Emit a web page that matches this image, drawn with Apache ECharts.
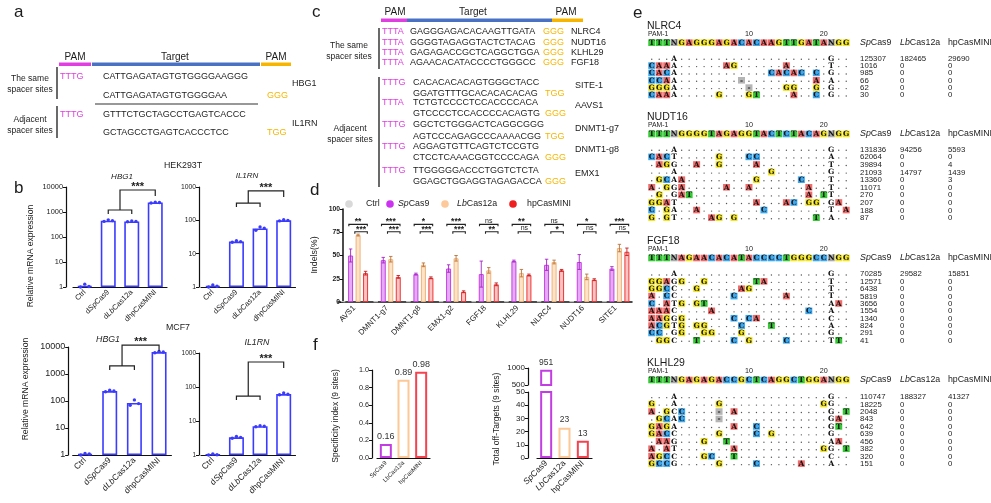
<!DOCTYPE html>
<html><head><meta charset="utf-8">
<script src="https://cdn.jsdelivr.net/npm/echarts@6/dist/echarts.min.js"></script>
<style>html,body{margin:0;padding:0;background:#fff;}#chart{width:991px;height:503px;}</style>
</head><body><div id="chart"></div>
<script>
// ================= DATA =================
// panel a
const aSameRows = [['TTTG','CATTGAGATAGTGTGGGGAAGGG',''],['','CATTGAGATAGTGTGGGGAA','GGG']];
const aAdjRows = [['TTTG','GTTTCTGCTAGCCTGAGTCACCC',''],['','GCTAGCCTGAGTCACCCTCC','TGG']];
const aGenes = ['HBG1','IL1RN'];
// panel c
const cSameRows = [['TTTA','GAGGGAGACACAAGTTGATA','GGG','NLRC4'],['TTTA','GGGGTAGAGGTACTCTACAG','GGG','NUDT16'],
  ['TTTA','GAGAGACCGCTCAGGCTGGA','GGG','KLHL29'],['TTTA','AGAACACATACCCCTGGGCC','GGG','FGF18']];
const cAdjPairs = [['TTTG','CACACACACAGTGGGCTACC','GGATGTTTGCACACACACAG','TGG','SITE-1'],
  ['TTTA','TCTGTCCCCTCCACCCCACA','GTCCCCTCCACCCCACAGTG','GGG','AAVS1'],
  ['TTTG','GGCTCTGGGACTCAGGCGGG','AGTCCCAGAGCCCAAAACGG','TGG','DNMT1-g7'],
  ['TTTG','AGGAGTGTTCAGTCTCCGTG','CTCCTCAAACGGTCCCCAGA','GGG','DNMT1-g8'],
  ['TTTG','TTGGGGGACCCTGGTCTCTA','GGAGCTGGAGGTAGAGACCA','GGG','EMX1']];
// panel b
const bCats = ['Ctrl','dSpCas9','dLbCas12a','dhpCasMINI'];
const hekHBG1 = [1.1, 450, 420, 2400];
const hekHBG1Reps = [[1.0,1.3,1.05],[420,485,450],[405,435,420],[2300,2480,2400]];
const hekIL1RN = [1.07, 23, 57, 100];
const hekIL1RNReps = [[1.0,1.15,1.05],[22,24.5,23],[50,63,58],[96,104,100]];
const mcfHBG1 = [1.08, 233, 85, 6500];
const mcfHBG1Reps = [[1.0,1.15,1.1],[220,250,235],[70,110,80],[6100,6900,6500]];
const mcfIL1RN = [1.03, 3.3, 7.0, 62];
const mcfIL1RNReps = [[1.0,1.08,1.02],[3.1,3.5,3.3],[6.8,7.3,7.0],[59,67,61]];
const bBrackets = [[1200,7600],[330,760],[1990,11800],[54,543]];
const bSig = ['***','***','***','***'];
// panel d
const dCats = ['AVS1','DMNT1-g7','DMNT1-g8','EMX1-g2','FGF18','KLHL29','NLRC4','NUDT16','SITE1'];
const dCtrl = [0.8,0.8,0.8,0.8,0.8,0.8,0.8,0.8,0.8];
const dSp   = [50,45,30,36,30,44,40,43,36];
const dSpSd = [7,3,1,4,14,1,6,8,2];
const dLb   = [72,46,40,47,34,31,43,27,58];
const dLbSd = [1,3,2,3,3,4,2,3,4];
const dHp   = [31,27,26,11,19,29,34,24,54];
const dHpSd = [2,1.5,1,1,1.5,1,1,1,4];
const dSigTop = ['**','***','*','***','ns','**','ns','*','***'];
const dSigBot = ['***','***','***','***','**','ns','*','ns','ns'];
// panel f
const fCats = ['SpCas9','LbCas12a','hpCasMINI'];
const fSpecificity = [0.16, 0.89, 0.98];
const fOffTargets = [951, 23, 13];
// panel e  (digits = runs of matching '.')
const eNames = ['NLRC4','NUDT16','FGF18','KLHL29'];
const eRefs = ['TTTNGAGGGAGACACAAGTTGATANGG','TTTNGGGGTAGAGGTACTCTACAGNGG','TTTNAGAACACATACCCCTGGGCCNGG','TTTNGAGAGACCGCTCAGGCTGGANGG'];
const nlrc4Rows = ['3A20G2','CAAA6AG6A5T2','CACA12CACAC1C1G2','CCAA8-9A1A2','GGGA9-4GG2G1G2','CAAA5G3GT4A2C1G2'];
const nlrc4Counts = [[125307,182465,29690],[1016,0,0],[985,0,0],[66,0,0],[62,0,0],[30,0,0]];
const nudt16Rows = ['3A20G2','CACT5G3CC9A2','1AGG2A2G4A9T2','3A12G7G2','1GCAA9G5C3T2','A1GGA5A2A7A2T2','1G1GAT15A1TT2','GGAT10A3AC1GG1GA1','C1GA2A8C8T1A','G1GT4AG1G10T1A2'];
const nudt16Counts = [[131836,94256,5593],[62064,0,0],[39894,0,4],[21093,14797,1439],[13360,0,3],[11071,0,0],[270,0,0],[207,0,0],[188,0,0],[87,0,0]];
const fgf18Rows = ['3A20G2','GGAGG2G6TA8T2','GGCC2G5AG10T2','A1CC7C6A5T2','C1ATG1GT16AA1','AAAC4A12C2A2','AAGGG6C1CA9C2','ACGTG1GG4C3T7A2','CC1GG2GG3G11G2','1GGC2T4C1G4C5TT1'];
const fgf18Counts = [[70285,29582,15851],[12571,0,0],[6438,0,0],[5819,0,0],[3656,0,0],[1554,0,0],[1340,0,0],[824,0,0],[291,0,0],[41,0,0]];
const klhl29Rows = ['3A20G2','G2A5G13GG2','A1GCC4-1A12G1T','1GCAC4-14GA1','GAGA7A2C9GT1','GACC5G4C1G7G2','1AAG3G2T13AA1','A1AT7A11GG1T','AGCC3GC2T12C2','GCCG5G4C5A3A2'];
const klhl29Counts = [[110747,188327,41327],[18225,0,0],[2048,0,0],[843,0,0],[642,0,0],[639,0,0],[456,0,0],[382,0,0],[320,0,0],[151,0,0]];
const eHeaders = ['{i|Sp}Cas9','{i|Lb}Cas12a','hpCasMINI'];

// ================= STYLE / LAYOUT =================
const FONT = '"Liberation Sans", Arial, sans-serif';
const TXT = '#1c1c1c';
const MAG = '#e03ee0', BLUEBAR = '#4a72c4', YEL = '#f7b500';
const BLUE = '#3b3bff';
const E_COL = {A:'#f26b6b', C:'#3ea8ee', G:'#f3e51e', T:'#36c936', N:'#a9a9a9', '-':'#b5b5b5'};
const CELL = 7.48;
const eLayout = [{refY:42.7, sp:7.34, gap:2.12},{refY:134, sp:7.6, gap:2.01},{refY:258, sp:7.37, gap:2.17},{refY:380, sp:7.44, gap:2.24}];
const eCountX = [27.85, 33.2, 39.6];

function font(size, st, wt){ return (st||'') + ' ' + (wt||'') + ' ' + size + 'px ' + FONT; }
function T(x, y, text, o){
  o = o || {};
  const st = { text: text, fill: o.fill || TXT, font: font(o.size || 9, o.st, o.wt),
    align: o.align || 'left', verticalAlign: o.va || 'middle', textAlign: o.align || 'left', textVerticalAlign: o.va || 'middle' };
  if (o.rich) st.rich = o.rich;
  return { type:'text', x:x, y:y, rotation:o.rot || 0, z:20, silent:true, style: st };
}
function richI(size){ return { i: { font: font(size,'italic'), fontStyle:'italic', fontSize:size, fontFamily:FONT, fill:TXT } }; }
function italicize(v){ return '{n|' + v.replace(/(Sp|Lb)/, '}{i|$1}{n|') + '}'; }
function axisRich(fs){ return { n:{fontSize:fs, fontFamily:FONT, color:TXT}, i:{fontSize:fs, fontFamily:FONT, fontStyle:'italic', color:TXT} }; }
function decodeRow(s){ let out=''; s.replace(/(\d+)|(\D)/g, function(m,d,c){ out += d ? '.'.repeat(+d) : c; return m; }); return out; }
function plain(v){ return String(Math.round(v * 1000) / 1000); }

const grids = [], xAxes = [], yAxes = [], series = [], graphic = [];

// ================= PANEL a =================
graphic.push(T(14, 12, 'a', {size:17}));
graphic.push(T(75, 57, 'PAM', {size:10, align:'center'}));
graphic.push(T(175, 57, 'Target', {size:10, align:'center'}));
graphic.push(T(276, 57, 'PAM', {size:10, align:'center'}));
graphic.push({type:'rect', shape:{x:59, y:62.5, width:32, height:3.5}, style:{fill:MAG}});
graphic.push({type:'rect', shape:{x:92, y:62.5, width:168, height:3.5}, style:{fill:BLUEBAR}});
graphic.push({type:'rect', shape:{x:261, y:62.5, width:30, height:3.5}, style:{fill:YEL}});
graphic.push(T(30, 79, 'The same', {size:8.5, align:'center'}));
graphic.push(T(30, 89.5, 'spacer sites', {size:8.5, align:'center'}));
graphic.push(T(30, 120, 'Adjacent', {size:8.5, align:'center'}));
graphic.push(T(30, 131, 'spacer sites', {size:8.5, align:'center'}));
graphic.push({type:'line', shape:{x1:57, y1:67, x2:57, y2:99}, style:{stroke:'#444', lineWidth:1.6}});
graphic.push({type:'line', shape:{x1:57, y1:106, x2:57, y2:138}, style:{stroke:'#444', lineWidth:1.6}});
graphic.push({type:'line', shape:{x1:95, y1:104, x2:258, y2:104}, style:{stroke:'#333', lineWidth:1.2}});
[[aSameRows,[77,96]],[aAdjRows,[115,133]]].forEach(function(g){
  g[0].forEach(function(r,i){
    const y = g[1][i];
    if (r[0]) graphic.push(T(60, y, r[0], {fill:MAG}));
    graphic.push(T(103, y, r[1]));
    if (r[2]) graphic.push(T(267, y, r[2], {fill:YEL}));
  });
});
graphic.push(T(292, 84, aGenes[0], {size:9}));
graphic.push(T(292, 124, aGenes[1], {size:9}));

// ================= PANEL c =================
graphic.push(T(312, 12, 'c', {size:17}));
graphic.push(T(395, 12, 'PAM', {size:10, align:'center'}));
graphic.push(T(473, 12, 'Target', {size:10, align:'center'}));
graphic.push(T(566, 12, 'PAM', {size:10, align:'center'}));
graphic.push({type:'rect', shape:{x:381, y:18.5, width:26, height:3.5}, style:{fill:MAG}});
graphic.push({type:'rect', shape:{x:407, y:18.5, width:145, height:3.5}, style:{fill:BLUEBAR}});
graphic.push({type:'rect', shape:{x:552, y:18.5, width:31, height:3.5}, style:{fill:YEL}});
graphic.push(T(349, 46, 'The same', {size:8.5, align:'center'}));
graphic.push(T(349, 56.5, 'spacer sites', {size:8.5, align:'center'}));
graphic.push(T(350, 129, 'Adjacent', {size:8.5, align:'center'}));
graphic.push(T(350, 139.5, 'spacer sites', {size:8.5, align:'center'}));
graphic.push({type:'line', shape:{x1:379, y1:28, x2:379, y2:69}, style:{stroke:'#444', lineWidth:1.6}});
graphic.push({type:'line', shape:{x1:379, y1:77, x2:379, y2:187}, style:{stroke:'#444', lineWidth:1.6}});
const cSameY = [32, 42.7, 52.8, 63];
cSameRows.forEach(function(r,i){
  const y = cSameY[i];
  graphic.push(T(382, y, r[0], {fill:MAG}));
  graphic.push(T(410, y, r[1]));
  graphic.push(T(543, y, r[2], {fill:YEL}));
  graphic.push(T(571, y, r[3]));
});
const cAdjY = [[83,94],[103,114],[125,136.5],[147,158],[171,182]];
cAdjPairs.forEach(function(r,i){
  const y = cAdjY[i];
  graphic.push(T(382, y[0], r[0], {fill:MAG}));
  graphic.push(T(413, y[0], r[1]));
  graphic.push(T(413, y[1], r[2]));
  graphic.push(T(545, y[1], r[3], {fill:YEL}));
  graphic.push(T(575, (y[0]+y[1])/2 - 2.5, r[4]));
});

// ================= PANEL b =================
graphic.push(T(14, 188, 'b', {size:17}));
graphic.push(T(183, 166, 'HEK293T', {size:8.8, align:'center'}));
graphic.push(T(178, 328, 'MCF7', {size:8.8, align:'center'}));
graphic.push(T(122, 177, 'HBG1', {size:8, st:'italic', align:'center'}));
graphic.push(T(247, 176, 'IL1RN', {size:8, st:'italic', align:'center'}));
graphic.push(T(108, 340, 'HBG1', {size:8.8, st:'italic', align:'center'}));
graphic.push(T(257, 343, 'IL1RN', {size:8.8, st:'italic', align:'center'}));
graphic.push(T(31, 256, 'Relative mRNA expression', {size:8.6, align:'center', rot:Math.PI/2}));
graphic.push(T(26, 389, 'Relative mRNA expression', {size:8.6, align:'center', rot:Math.PI/2}));

const bCfg = [
  {left:73, top:187, width:94, height:100, max:10000, offset:7, values:hekHBG1, reps:hekHBG1Reps, xfs:7.5, yfs:7.4},
  {left:201, top:187, width:94.5, height:100, max:1000, offset:2, values:hekIL1RN, reps:hekIL1RNReps, xfs:7.5, yfs:6.8},
  {left:72.7, top:347, width:98.7, height:108, max:10000, offset:4.5, values:mcfHBG1, reps:mcfHBG1Reps, xfs:8.5, yfs:9},
  {left:201, top:353, width:94.5, height:102, max:1000, offset:2, values:mcfIL1RN, reps:mcfIL1RNReps, xfs:8.5, yfs:6.5}
];
bCfg.forEach(function(cfg, bi){
  const gi = grids.length;
  grids.push({left:cfg.left, top:cfg.top, width:cfg.width, height:cfg.height});
  xAxes.push({gridIndex:gi, type:'category', data:bCats,
    axisLine:{onZero:false, lineStyle:{color:'#111', width:1.2}},
    axisTick:{alignWithLabel:true, length:3, lineStyle:{color:'#111'}},
    axisLabel:{rotate:45, interval:0, margin:4, formatter:italicize, rich:axisRich(cfg.xfs)}});
  yAxes.push({gridIndex:gi, type:'log', logBase:10, min:1, max:cfg.max, offset:cfg.offset,
    axisLine:{show:true, lineStyle:{color:'#111', width:1.2}},
    axisTick:{show:true, length:3, lineStyle:{color:'#111'}}, splitLine:{show:false}, minorTick:{show:false},
    axisLabel:{fontSize:cfg.yfs, color:TXT, margin:3, formatter:function(v){ return String(Math.round(v)); }}});
  series.push({type:'bar', xAxisIndex:gi, yAxisIndex:gi, data:cfg.values, barWidth:15,
    itemStyle:{color:'#fff', borderColor:BLUE, borderWidth:1.6}, silent:true});
  const dots = [];
  cfg.reps.forEach(function(r,c){ r.forEach(function(v,j){ dots.push([c, v, j]); }); });
  series.push({type:'custom', xAxisIndex:gi, yAxisIndex:gi, data:dots, z:5, silent:true,
    renderItem:function(p, api){
      const pt = api.coord([api.value(0), api.value(1)]);
      return {type:'circle', shape:{cx:pt[0] + (api.value(2)-1)*4.2, cy:pt[1], r:1.7}, style:{fill:BLUE}};
    }});
  series.push({type:'custom', xAxisIndex:gi, yAxisIndex:gi, data:[[1, bBrackets[bi][0], bBrackets[bi][1]]], z:6, clip:false, silent:true,
    renderItem:function(p, api){
      const a = api.coord([1, api.value(1)]), b = api.coord([2, api.value(1)]), c = api.coord([3, api.value(2)]);
      const mx = (a[0]+b[0])/2, yl = a[1], yh = c[1];
      const s = {stroke:'#222', lineWidth:1.2, fill:null};
      return {type:'group', children:[
        {type:'polyline', shape:{points:[[a[0],yl+4],[a[0],yl],[b[0],yl],[b[0],yl+4]]}, style:s},
        {type:'polyline', shape:{points:[[mx,yl],[mx,yh],[c[0],yh],[c[0],yh+6]]}, style:s},
        {type:'text', x:(mx+c[0])/2, y:yh-3.5, style:{text:bSig[bi], fill:'#222', font:font(11,'','bold'), align:'center', verticalAlign:'middle', textAlign:'center', textVerticalAlign:'middle'}}
      ]};
    }});
});

// ================= PANEL d =================
graphic.push(T(310, 190, 'd', {size:17}));
graphic.push(T(315, 255, 'Indels(%)', {size:8.8, align:'center', rot:Math.PI/2}));
const dLegend = [[349,'#d9d9d9','Ctrl',366],[390,'#cc33f0','{i|Sp}Cas9',398],[445,'#fdc99a','{i|Lb}Cas12a',457],[513,'#f01f1f','hpCasMINI',527]];
dLegend.forEach(function(l){
  graphic.push({type:'circle', shape:{cx:l[0], cy:204, r:3.8}, style:{fill:l[1]}, silent:true});
  graphic.push(T(l[3], 204, l[2], {size:8.8, rich:richI(8.8)}));
});
(function(){
  const gi = grids.length;
  grids.push({left:338, top:209, width:294, height:93});
  xAxes.push({gridIndex:gi, type:'category', data:dCats,
    axisLine:{onZero:false, lineStyle:{color:'#111', width:1.5}},
    axisTick:{length:3, lineStyle:{color:'#111'}},
    axisLabel:{rotate:45, interval:0, margin:5, fontSize:7.8, color:TXT, fontFamily:FONT}});
  yAxes.push({gridIndex:gi, type:'value', min:0, max:100, interval:25, offset:-5,
    axisLine:{show:true, lineStyle:{color:'#111', width:1.5}},
    axisTick:{show:true, length:3, lineStyle:{color:'#111'}}, splitLine:{show:false},
    axisLabel:{fontSize:6.8, fontWeight:'bold', color:TXT, margin:3}});
  const defs = [[dCtrl,'#dddddd','#c4c4c4'],[dSp,'#e6abf5','#c53fe3'],[dLb,'#fde3c8','#f1b279'],[dHp,'#ffc4c4','#ee3434']];
  defs.forEach(function(d){
    series.push({type:'bar', xAxisIndex:gi, yAxisIndex:gi, data:d[0], barWidth:5, barGap:'50%',
      itemStyle:{color:d[1], borderColor:d[2], borderWidth:1}, silent:true});
  });
  const errs = [];
  [[dSp,dSpSd],[dLb,dLbSd],[dHp,dHpSd]].forEach(function(ms, si){
    ms[0].forEach(function(v,k){ errs.push([k, v - ms[1][k], v + ms[1][k], si + 1]); });
  });
  const errCol = ['#888','#a424c4','#b8743a','#c41f1f'];
  series.push({type:'custom', xAxisIndex:gi, yAxisIndex:gi, data:errs, z:6, silent:true,
    renderItem:function(p, api){
      const k = api.value(0), si = api.value(3);
      const lo = api.coord([k, api.value(1)]), hi = api.coord([k, api.value(2)]);
      const x = lo[0] + (si - 1.5) * 7.5;
      const st = {stroke:errCol[si], lineWidth:0.9};
      return {type:'group', children:[
        {type:'line', shape:{x1:x, y1:lo[1], x2:x, y2:hi[1]}, style:st},
        {type:'line', shape:{x1:x-1.7, y1:hi[1], x2:x+1.7, y2:hi[1]}, style:st},
        {type:'line', shape:{x1:x-1.7, y1:lo[1], x2:x+1.7, y2:lo[1]}, style:st}]};
    }});
  series.push({type:'custom', xAxisIndex:gi, yAxisIndex:gi, data:dCats.map(function(c,k){ return [k, 83.5, 75.6]; }), z:7, clip:false, silent:true,
    renderItem:function(p, api){
      const k = api.value(0);
      const u = api.coord([k, api.value(1)]), l = api.coord([k, api.value(2)]);
      const cx = u[0];
      const s = {stroke:'#222', lineWidth:1.1, fill:null};
      const tTop = dSigTop[k], tBot = dSigBot[k];
      function lab(x, y, t){
        const ns = t === 'ns';
        return {type:'text', x:x, y:y - (ns ? 3.5 : 2.3), style:{text:t, fill:'#222', font: ns ? font(7,'','') : font(8.5,'','bold'), align:'center', verticalAlign:'middle', textAlign:'center', textVerticalAlign:'middle'}};
      }
      return {type:'group', children:[
        {type:'polyline', shape:{points:[[cx-5.5,u[1]+2],[cx-5.5,u[1]],[cx+13,u[1]],[cx+13,u[1]+2]]}, style:s},
        {type:'polyline', shape:{points:[[cx+0.5,l[1]+2],[cx+0.5,l[1]],[cx+13,l[1]],[cx+13,l[1]+2]]}, style:s},
        lab(cx+3.75, u[1], tTop), lab(cx+6.75, l[1], tBot)]};
    }});
})();

// ================= PANEL f =================
graphic.push(T(313, 345, 'f', {size:17}));
graphic.push(T(336, 416, 'Specificity index (9 sites)', {size:8.5, align:'center', rot:Math.PI/2}));
graphic.push(T(497, 419, 'Total off-Targets (9 sites)', {size:8.5, align:'center', rot:Math.PI/2}));
const fBorder = ['#c23ee2','#fdc898','#f5424f'];
(function(){
  let gi = grids.length;
  grids.push({left:377, top:370, width:53, height:88});
  xAxes.push({gridIndex:gi, type:'category', data:fCats,
    axisLine:{onZero:false, lineStyle:{color:'#111', width:1.2}},
    axisTick:{alignWithLabel:true, length:3, lineStyle:{color:'#111'}},
    axisLabel:{rotate:45, interval:0, margin:4, fontSize:6, color:TXT, fontFamily:FONT}});
  yAxes.push({gridIndex:gi, type:'value', min:0, max:1, interval:0.2, offset:5,
    axisLine:{show:true, lineStyle:{color:'#111', width:1.2}},
    axisTick:{show:true, length:3, lineStyle:{color:'#111'}}, splitLine:{show:false},
    axisLabel:{fontSize:7.2, color:TXT, margin:3, formatter:function(v){ return v.toFixed(1); }}});
  series.push({type:'bar', xAxisIndex:gi, yAxisIndex:gi, barWidth:12, silent:true,
    data:fSpecificity.map(function(v,i){ return {value:v, itemStyle:{borderColor:fBorder[i]}}; }),
    itemStyle:{color:'#fff', borderWidth:2},
    label:{show:true, position:'top', distance:3, fontSize:9, color:'#333', fontFamily:FONT, formatter:function(p){ return String(p.value); }}});

  // broken axis: top segment
  gi = grids.length;
  grids.push({left:537, top:368, width:55, height:17});
  xAxes.push({gridIndex:gi, type:'category', data:fCats, show:false});
  yAxes.push({gridIndex:gi, type:'value', min:500, max:1000, interval:500, offset:9,
    axisLine:{show:true, lineStyle:{color:'#111', width:1.2}},
    axisTick:{show:true, length:3, lineStyle:{color:'#111'}}, splitLine:{show:false},
    axisLabel:{fontSize:8, color:TXT, margin:3, formatter:plain}});
  series.push({type:'bar', xAxisIndex:gi, yAxisIndex:gi, barWidth:12, silent:true,
    data:fOffTargets.map(function(v,i){ return {value:v, itemStyle:{borderColor:fBorder[i]}, label:{show:i===0}}; }),
    itemStyle:{color:'#fff', borderWidth:2},
    label:{show:false, position:'top', distance:3, fontSize:8.5, color:'#333', fontFamily:FONT}});
  // bottom segment
  gi = grids.length;
  grids.push({left:537, top:392, width:55, height:66});
  xAxes.push({gridIndex:gi, type:'category', data:fCats,
    axisLine:{onZero:false, lineStyle:{color:'#111', width:1.2}},
    axisTick:{alignWithLabel:true, length:3, lineStyle:{color:'#111'}},
    axisLabel:{rotate:45, interval:0, margin:4, formatter:italicize, rich:axisRich(8.5)}});
  yAxes.push({gridIndex:gi, type:'value', min:0, max:50, interval:10, offset:9,
    axisLine:{show:true, lineStyle:{color:'#111', width:1.2}},
    axisTick:{show:true, length:3, lineStyle:{color:'#111'}}, splitLine:{show:false},
    axisLabel:{fontSize:8, color:TXT, margin:3, formatter:plain}});
  series.push({type:'bar', xAxisIndex:gi, yAxisIndex:gi, barWidth:12, silent:true,
    data:fOffTargets.map(function(v,i){ return {value:v, itemStyle:{borderColor:fBorder[i]}, label:{show:i>0}}; }),
    itemStyle:{color:'#fff', borderWidth:2},
    label:{show:false, position:'top', distance:3, fontSize:8.5, color:'#333', fontFamily:FONT}});
})();

// ================= PANEL e =================
graphic.push(T(633, 13, 'e', {size:17}));
const eRows = [nlrc4Rows, nudt16Rows, fgf18Rows, klhl29Rows];
const eCounts = [nlrc4Counts, nudt16Counts, fgf18Counts, klhl29Counts];
eNames.forEach(function(name, bi){
  const L = eLayout[bi];
  const rows = eRows[bi].map(decodeRow);
  const ref = eRefs[bi];
  const n = rows.length;
  const ymax = L.gap + n - 1 + 0.5;
  const gi = grids.length;
  grids.push({left:648, top:L.refY - 0.5*L.sp, width:45*CELL, height:(ymax + 0.5)*L.sp});
  xAxes.push({gridIndex:gi, type:'value', min:-0.5, max:44.5, show:false});
  yAxes.push({gridIndex:gi, type:'value', min:-0.5, max:ymax, inverse:true, show:false});
  const cells = [];
  for (let k = 0; k < ref.length; k++) cells.push({x:k, y:0, ch:ref[k], hl:true});
  rows.forEach(function(s, i){
    for (let k = 0; k < s.length; k++) {
      const ch = s[k];
      cells.push({x:k, y:L.gap + i, ch:ch, hl: ch === '-' || (ch !== '.' && k !== 3 && k !== 24)});
    }
  });
  series.push({type:'custom', xAxisIndex:gi, yAxisIndex:gi, silent:true, z:4,
    data:cells.map(function(c){ return [c.x, c.y]; }),
    renderItem:function(p, api){
      const c = cells[p.dataIndex];
      const pt = api.coord([api.value(0), api.value(1)]);
      const w = CELL - 0.5, h = 6.6;
      if (c.ch === '.') return {type:'circle', shape:{cx:pt[0], cy:pt[1] + 1, r:0.7}, style:{fill:'#555'}};
      const ch = [];
      if (c.hl) ch.push({type:'rect', shape:{x:pt[0]-w/2, y:pt[1]-h/2, width:w, height:h}, style:{fill:E_COL[c.ch] || '#ccc'}});
      ch.push({type:'text', x:pt[0], y:pt[1] + 0.4, style:{text:c.ch, fill:'#111', font:'bold 7.4px "DejaVu Serif", serif', align:'center', verticalAlign:'middle', textAlign:'center', textVerticalAlign:'middle'}});
      return {type:'group', children:ch};
    }});
  const texts = [];
  eHeaders.forEach(function(h, j){ texts.push({x:eCountX[j], y:0, t:h, head:true}); });
  eCounts[bi].forEach(function(r, i){ r.forEach(function(v, j){ texts.push({x:eCountX[j], y:L.gap + i, t:String(v)}); }); });
  series.push({type:'custom', xAxisIndex:gi, yAxisIndex:gi, silent:true, z:4,
    data:texts.map(function(t){ return [t.x, t.y]; }),
    renderItem:function(p, api){
      const t = texts[p.dataIndex];
      const pt = api.coord([api.value(0), api.value(1)]);
      const st = {text:t.t, fill:TXT, font: font(t.head ? 8.8 : 7.8), align:'left', verticalAlign:'middle', textAlign:'left', textVerticalAlign:'middle'};
      if (t.head) st.rich = richI(8.8);
      return {type:'text', x:pt[0], y:pt[1] + (t.head ? 0 : 0.3), style:st};
    }});
  graphic.push(T(647, L.refY - 17, name, {size:10.5}));
  graphic.push(T(648, L.refY - 8.6, 'PAM-1', {size:6.8}));
  graphic.push(T(648 + 13.5*CELL, L.refY - 9, '10', {size:7.2, align:'center'}));
  graphic.push(T(648 + 23.5*CELL, L.refY - 9, '20', {size:7.2, align:'center'}));
});

// ================= RENDER =================
const chart = echarts.init(document.getElementById('chart'), null, {renderer:'canvas'});
chart.setOption({
  animation:false,
  backgroundColor:'#fff',
  textStyle:{fontFamily:FONT},
  grid:grids, xAxis:xAxes, yAxis:yAxes, series:series, graphic:graphic
});
</script></body></html>
